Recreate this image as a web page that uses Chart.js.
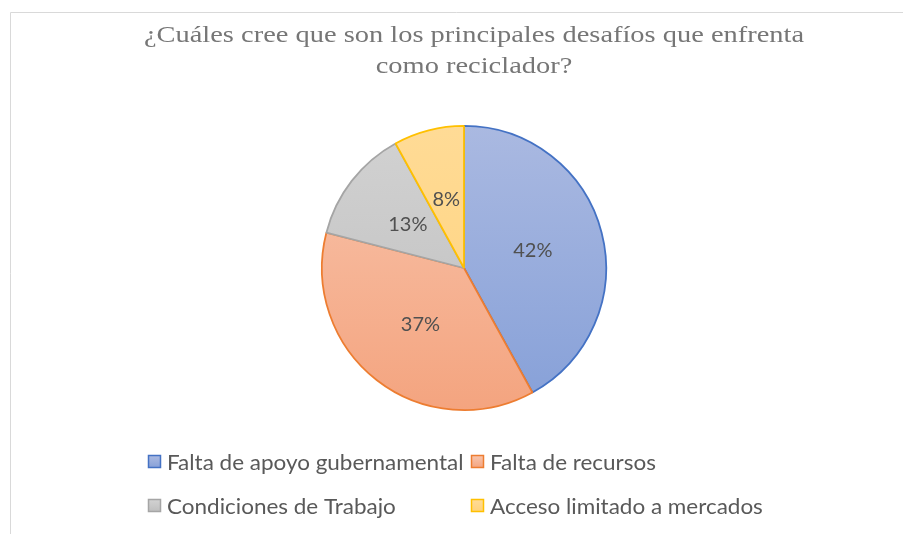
<!DOCTYPE html>
<html>
<head>
<meta charset="utf-8">
<script src="https://cdn.jsdelivr.net/npm/chart.js@4.4.0/dist/chart.umd.min.js"></script>
<style>
  html, body { margin: 0; padding: 0; background: #ffffff; }
  #wrap { position: relative; width: 903px; height: 534px; }
  canvas { display: block; }
</style>
</head>
<body>
<div id="wrap"><canvas id="c" width="903" height="534"></canvas></div>
<script>
// ---- data ----
const TITLE_LINES = ['¿Cuáles cree que son los principales desafíos que enfrenta', 'como reciclador?'];
const CATEGORIES = ['Falta de apoyo gubernamental', 'Falta de recursos', 'Condiciones de Trabajo', 'Acceso limitado a mercados'];
const VALUES = [42, 37, 13, 8];

// ---- styles ----
const BORDER_COLORS = ['#4472C4', '#ED7D31', '#A5A5A5', '#FFC000'];
const GRAD_TOP = ['#AAB9E1', '#F8C4AC', '#D2D2D2', '#FFDB96'];
const GRAD_BOTTOM = ['#86A0D8', '#F4A47F', '#BEBEBE', '#FFD27A'];

function gradFill(ctx) {
  const i = ctx.dataIndex;
  const chart = ctx.chart;
  const area = chart.chartArea;
  if (!area) return GRAD_TOP[i];
  const g = chart.ctx.createLinearGradient(0, area.top, 0, area.bottom);
  g.addColorStop(0, GRAD_TOP[i]);
  g.addColorStop(1, GRAD_BOTTOM[i]);
  return g;
}

function drawScaledText(c, text, x, y, sx, align) {
  c.save();
  c.translate(x, y);
  c.scale(sx, 1);
  c.textAlign = align;
  c.fillText(text, 0, 0);
  c.restore();
}

const excelPlugin = {
  id: 'excelDecor',
  beforeDraw(chart) {
    const c = chart.ctx;
    c.save();
    // chart frame
    c.strokeStyle = '#D9D9D9';
    c.lineWidth = 1;
    c.beginPath();
    c.moveTo(10.5, 534);
    c.lineTo(10.5, 12.5);
    c.lineTo(903, 12.5);
    c.stroke();
    // title
    c.fillStyle = '#767676';
    c.font = '24px "Liberation Serif", "Times New Roman", serif';
    c.textBaseline = 'alphabetic';
    const ys = [42, 73];
    TITLE_LINES.forEach((t, k) => drawScaledText(c, t, 474, ys[k], 1.185, 'center'));
    c.restore();
  },
  afterDatasetsDraw(chart) {
    const c = chart.ctx;
    const meta = chart.getDatasetMeta(0);
    const total = VALUES.reduce((a, b) => a + b, 0);
    c.save();
    c.fillStyle = '#505050';
    c.font = '20px Lato, "Open Sans", sans-serif';
    c.textAlign = 'center';
    c.textBaseline = 'middle';
    meta.data.forEach((arc, i) => {
      const p = arc.tooltipPosition();
      c.fillText(Math.round(VALUES[i] / total * 100) + '%', p.x, p.y);
    });
    // legend grid
    const cols = [148, 471];
    const rows = [462, 506];
    c.font = '21px Lato, "Open Sans", sans-serif';
    CATEGORIES.forEach((lab, i) => {
      const x = cols[i % 2], y = rows[Math.floor(i / 2)];
      const g = c.createLinearGradient(0, y - 6, 0, y + 6);
      g.addColorStop(0, GRAD_TOP[i]);
      g.addColorStop(1, GRAD_BOTTOM[i]);
      c.fillStyle = g;
      c.fillRect(x + 0.5, y - 6.5, 12, 12);
      c.strokeStyle = BORDER_COLORS[i];
      c.lineWidth = 1.5;
      c.strokeRect(x + 0.5, y - 6.5, 12, 12);
      c.fillStyle = '#595959';
      drawScaledText(c, lab, x + 19, y + 1, 1.07, 'left');
    });
    c.restore();
  }
};

new Chart(document.getElementById('c'), {
  type: 'pie',
  data: {
    labels: CATEGORIES,
    datasets: [{
      data: VALUES,
      backgroundColor: gradFill,
      borderColor: BORDER_COLORS,
      borderWidth: 1.8,
      hoverOffset: 0
    }]
  },
  options: {
    responsive: false,
    animation: false,
    layout: { padding: { top: 125, bottom: 123, left: 25, right: 0 } },
    plugins: {
      legend: { display: false },
      title: { display: false },
      tooltip: { enabled: false }
    }
  },
  plugins: [excelPlugin]
});
</script>
</body>
</html>
